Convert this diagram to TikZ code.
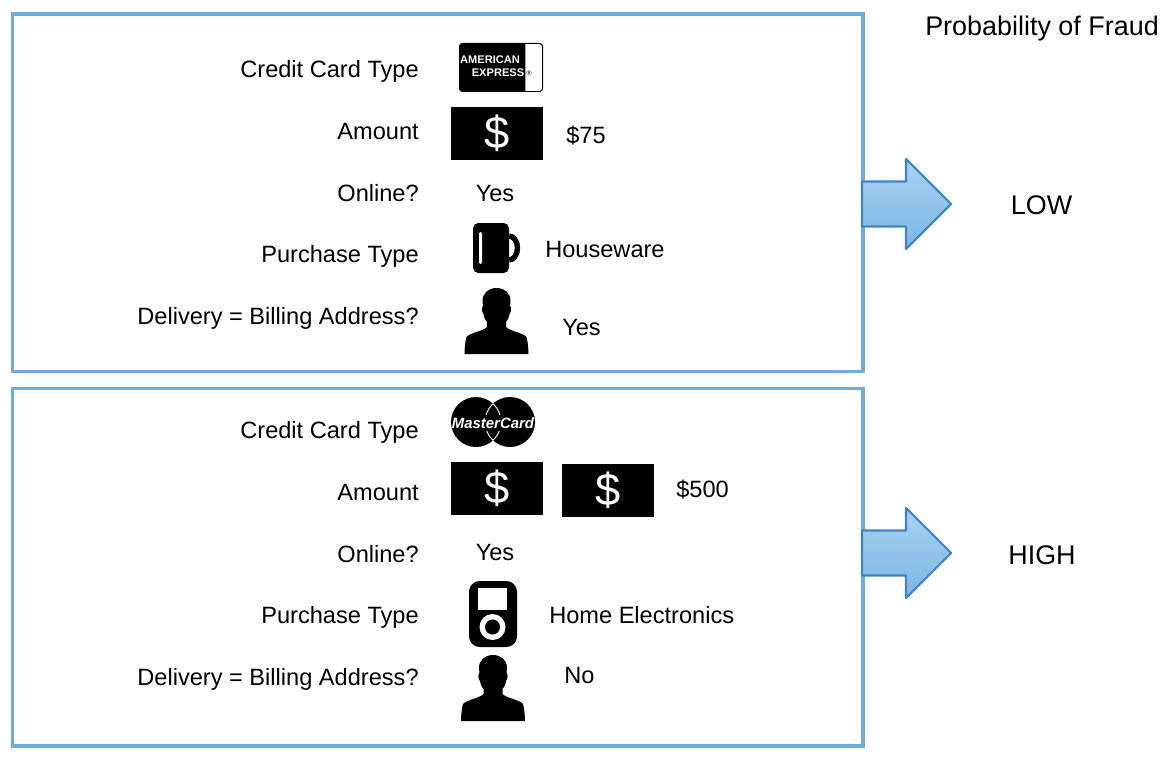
\documentclass[tikz,border=0pt]{standalone}
\usepackage{fontspec}
\setmainfont{Liberation Sans}
\usetikzlibrary{calc}

\definecolor{panelblue}{HTML}{6FABDC}
\definecolor{arrowblue}{HTML}{3F85C5}
\definecolor{arrowtop}{HTML}{A8D2F0}
\definecolor{arrowbottom}{HTML}{7BB5E2}

\tikzset{
	lbl/.style={anchor=base east, inner sep=0pt, font=\fontsize{17.7}{20}\selectfont},
	val/.style={anchor=base west, inner sep=0pt, font=\fontsize{17.7}{20}\selectfont},
	big/.style={anchor=base, inner sep=0pt, font=\fontsize{20.2}{24}\selectfont},
	panel/.style={draw=panelblue, line width=2.3pt},
	note/.style={inner sep=0pt, text=white, font=\fontsize{34}{38}\selectfont},
	fatarrow/.pic={
		\draw[draw=arrowblue, line width=1.6pt, line join=round, top color=arrowtop, bottom color=arrowbottom]
			(0,-22.5) -- (44,-22.5) -- (44,-45) -- (89,0) -- (44,45) -- (44,22.5) -- (0,22.5) -- cycle;
	},
	dollar/.pic={
		\fill[black] (-46,-26.5) rectangle (46,26.5);
		\node[note] (-note) at (0,0) {\$};
	},
	person/.pic={
		\fill[black] (0,0) .. controls (8,0) and (14,5) .. (14,13)
			-- (13.5,18) .. controls (15,19) and (15,24) .. (13,26)
			.. controls (12.5,30) and (10.5,33) .. (9.5,34)
			-- (9.5,39) .. controls (13,43) and (27,45) .. (30,49)
			.. controls (31,52) and (32,60) .. (32,66)
			-- (-32,66) .. controls (-32,60) and (-31,52) .. (-30,49)
			.. controls (-27,45) and (-13,43) .. (-9.5,39)
			-- (-9.5,34) .. controls (-10.5,33) and (-12.5,30) .. (-13,26)
			.. controls (-15,24) and (-15,19) .. (-13.5,18)
			-- (-14,13) .. controls (-14,5) and (-8,0) .. (0,0) -- cycle;
	},
}

\begin{document}
\begin{tikzpicture}[x=0.75pt, y=-0.75pt]
	\def\Rc{25}
	\def\Lx{476}
	\def\Rx{510}
	\def\Cy{422}

	\useasboundingbox (0,0) rectangle (1166,756);

	% the two panels
	\draw[panel]	(12.5,14) rectangle (863,371.5);
	\draw[panel]	(12.5,388.5) rectangle (863,746);

	\node[big, anchor=base west] (title) at (925,36) {Probability of Fraud};

	% upper panel
	\node[lbl] (typeA) at (419,78) {Credit Card Type};
	\node[lbl] (amountA) at (419,140) {Amount};
	\node[lbl] (onlineA) at (419,201) {Online?};
	\node[lbl] (purchaseA) at (419,262) {Purchase Type};
	\node[lbl] (deliveryA) at (419,324) {Delivery = Billing Address?};

	\fill[black, rounded corners=2.5pt]	(459,43) rectangle (543,92);
	\draw[black, fill=white, line width=0.5pt]	(525,43.5) [rounded corners=2.5pt] -- (542.5,43.5) -- (542.5,91.5) [sharp corners] -- (525,91.5) -- cycle;
	\node[inner sep=0pt, text=white, font=\fontsize{8.3}{9}\bfseries\selectfont] (amexA) at (490,59.5) {AMERICAN};
	\node[inner sep=0pt, text=white, font=\fontsize{8.3}{9}\bfseries\selectfont] (amexB) at (498,72.5) {EXPRESS};
	\node[inner sep=0pt, text=black, font=\fontsize{5}{6}\selectfont] (amexC) at (529,73) {®};

	\pic (dollarA) at (497,133.5) {dollar};
	\node[val] (priceA) at (566,143) {\$75};
	\node[val, anchor=base] (yesA) at (495,201) {Yes};

	% mug
	\draw[black, line width=4pt]	(509,236) arc[start angle=-90, end angle=90, x radius=8.5, y radius=12];
	\fill[black, rounded corners=4pt]	(473,223) rectangle (509,273);
	\fill[white, rounded corners=1pt]	(479,232) rectangle (482,264);
	\node[val] (wareA) at (545,257) {Houseware};

	\pic (personA) at (496.5,288) {person};
	\node[val] (matchA) at (562,335) {Yes};

	\pic at (862,204) {fatarrow};
	\node[big] (riskA) at (1041.5,214) {LOW};

	% lower panel
	\node[lbl] (typeB) at (419,438) {Credit Card Type};
	\node[lbl] (amountB) at (419,500) {Amount};
	\node[lbl] (onlineB) at (419,562) {Online?};
	\node[lbl] (purchaseB) at (419,623) {Purchase Type};
	\node[lbl] (deliveryB) at (419,685) {Delivery = Billing Address?};

	% overlapping discs
	\fill[black]	(\Lx,\Cy) circle (\Rc);
	\fill[black]	(\Rx,\Cy) circle (\Rc);
	\begin{scope}
		\clip (\Lx,\Cy) circle (\Rc);
		\draw[white, line width=0.7pt] (\Rx,\Cy) circle (\Rc);
	\end{scope}
	\begin{scope}
		\clip (\Rx,\Cy) circle (\Rc);
		\draw[white, line width=0.7pt] (\Lx,\Cy) circle (\Rc);
	\end{scope}
	\fill[black]	(480,415) rectangle (505,431);
	\node[inner sep=0pt, text=white, font=\fontsize{11.2}{12}\bfseries\itshape\selectfont] (brandB) at (493,423) {MasterCard};

	\pic (dollarB) at (497,488.5) {dollar};
	\pic (dollarC) at (608,490.5) {dollar};
	\node[val] (priceB) at (676,497) {\$500};
	\node[val, anchor=base] (yesB) at (495,560) {Yes};

	% music player
	\fill[black, rounded corners=8pt]	(469,581) rectangle (517,647);
	\fill[white]	(478,588) rectangle (507,610);
	\fill[white]	(492.5,627) circle (13);
	\fill[black]	(492.5,627) circle (7.5);
	\node[val] (wareB) at (549,623) {Home Electronics};

	\pic (personB) at (493,655) {person};
	\node[val] (matchB) at (564,683) {No};

	\pic at (862,553) {fatarrow};
	\node[big] (riskB) at (1042,564) {HIGH};
\end{tikzpicture}
\end{document}
